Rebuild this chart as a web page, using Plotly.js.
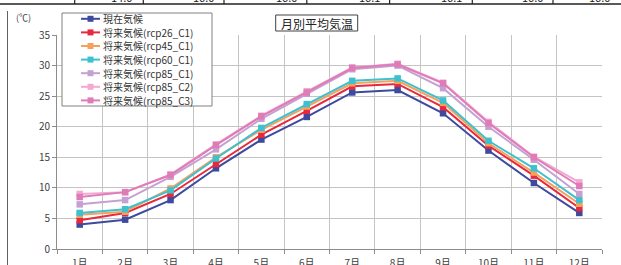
<!DOCTYPE html>
<html>
<head>
<meta charset="utf-8">
<script src="https://cdn.plot.ly/plotly-3.0.1.min.js"></script>
<style>html,body{margin:0;padding:0;background:#fff;}#chart{width:621px;height:265px;}</style>
</head>
<body>
<div id="chart"></div>
<script>
// ---- data ----
const months = ['1月','2月','3月','4月','5月','6月','7月','8月','9月','10月','11月','12月'];
const seriesNames = ['現在気候','将来気候(rcp26_C1)','将来気候(rcp45_C1)','将来気候(rcp60_C1)','将来気候(rcp85_C1)','将来気候(rcp85_C2)','将来気候(rcp85_C3)'];
const genzai   = [4.0, 4.8, 8.0, 13.2, 17.9, 21.6, 25.6, 26.0, 22.2, 16.1, 10.8, 5.9];
const rcp26_C1 = [4.7, 5.9, 9.0, 13.9, 18.7, 22.6, 26.6, 27.0, 23.2, 16.9, 12.0, 6.7];
const rcp45_C1 = [5.6, 6.1, 9.9, 15.0, 19.5, 23.3, 27.1, 27.5, 23.9, 17.3, 12.5, 7.4];
const rcp60_C1 = [5.9, 6.5, 9.6, 14.8, 19.8, 23.7, 27.5, 27.9, 24.3, 17.7, 13.2, 8.0];
const rcp85_C1 = [7.3, 8.0, 11.8, 16.3, 21.3, 25.4, 29.4, 30.0, 26.3, 20.0, 14.6, 9.0];
const rcp85_C2 = [9.0, 9.3, 12.2, 17.1, 21.8, 25.8, 29.7, 30.3, 27.2, 20.8, 15.1, 10.9];
const rcp85_C3 = [8.5, 9.3, 12.1, 17.0, 21.7, 25.6, 29.6, 30.2, 27.1, 20.6, 15.0, 10.3];
const yTicks = [0, 5, 10, 15, 20, 25, 30, 35];
const chartTitle = '月別平均気温';
const unitLabel = '(℃)';
const topRowTexts = ['14.0', '16.0', '16.0', '16.1', '16.1', '16.0', '16.0'];

// ---- style ----
const colors = ['#3d4a9e', '#e8283c', '#f6a05c', '#3ec1cf', '#c5a1d1', '#f3a9d1', '#df7cb8'];
const allSeries = [genzai, rcp26_C1, rcp45_C1, rcp60_C1, rcp85_C1, rcp85_C2, rcp85_C3];
const FONT = 'Noto Sans CJK JP, Noto Sans, sans-serif';
const W = 621, H = 265, L = 57, R = 19, T = 35, B = 16;
const PW = W - L - R, PH = H - T - B;
const px = X => (X - L) / PW;
const py = Y => (H - B - Y) / PH;

const traces = allSeries.map((vals, i) => ({
  type: 'scatter', mode: 'lines+markers',
  x: months, y: vals, name: seriesNames[i],
  line: {color: colors[i], width: 2},
  marker: {symbol: 'square', size: 6.5, color: colors[i]},
  showlegend: false, hoverinfo: 'skip'
}));

const shapes = [];
const annotations = [];

// custom legend
shapes.push({type: 'rect', xref: 'paper', yref: 'paper', x0: px(62), x1: px(212), y0: py(13), y1: py(106),
  line: {color: '#808080', width: 1}, fillcolor: '#ffffff', layer: 'above'});
seriesNames.forEach((nm, i) => {
  const Y = 18.8 + 13.6 * i;
  shapes.push({type: 'line', xref: 'paper', yref: 'paper', x0: px(81), x1: px(100), y0: py(Y), y1: py(Y),
    line: {color: colors[i], width: 2}, layer: 'above'});
  shapes.push({type: 'rect', xref: 'paper', yref: 'paper', x0: px(87.5), x1: px(93.5), y0: py(Y - 3), y1: py(Y + 3),
    line: {width: 0}, fillcolor: colors[i], layer: 'above'});
  annotations.push({xref: 'paper', yref: 'paper', x: px(101), y: py(Y), xanchor: 'left', yanchor: 'middle',
    text: nm, showarrow: false, font: {family: FONT, size: 10, color: '#333333'}});
});

// title box
shapes.push({type: 'rect', xref: 'paper', yref: 'paper', x0: px(275.7), x1: px(357.7), y0: py(15), y1: py(31),
  line: {color: '#404040', width: 1}, fillcolor: '#ffffff', layer: 'above'});
annotations.push({xref: 'paper', yref: 'paper', x: px(316.7), y: py(23.3), xanchor: 'center', yanchor: 'middle',
  text: chartTitle, showarrow: false, font: {family: FONT, size: 12, color: '#222222'}});

// unit label
annotations.push({xref: 'paper', yref: 'paper', x: px(23), y: py(17), xanchor: 'center', yanchor: 'middle',
  text: unitLabel, showarrow: false, font: {family: FONT, size: 9, color: '#404040'}});

// left frame line
shapes.push({type: 'line', xref: 'paper', yref: 'paper', x0: px(7.5), x1: px(7.5), y0: py(11), y1: py(266),
  line: {color: '#606060', width: 1}});

// top table strip (cut off)
shapes.push({type: 'line', xref: 'paper', yref: 'paper', x0: px(0), x1: px(621), y0: py(4), y1: py(4),
  line: {color: '#222222', width: 1.5}});
const sepX = [74.7, 143.3, 224, 306.8, 389.6, 472.3, 553];
sepX.forEach(X => shapes.push({type: 'line', xref: 'paper', yref: 'paper', x0: px(X), x1: px(X), y0: py(-2), y1: py(4),
  line: {color: '#222222', width: 1.2}}));
const textEnds = [134, 216, 299, 382, 464, 545, 612];
topRowTexts.forEach((t, i) => annotations.push({xref: 'paper', yref: 'paper', x: px(textEnds[i]), y: py(6.5),
  xanchor: 'right', yanchor: 'bottom', text: t, showarrow: false, font: {family: FONT, size: 11, color: '#222222'}}));

const layout = {
  width: W, height: H,
  margin: {l: L, r: R, t: T, b: B, pad: 0},
  paper_bgcolor: '#ffffff', plot_bgcolor: '#ffffff',
  showlegend: false,
  font: {family: FONT, size: 10, color: '#404040'},
  xaxis: {
    type: 'category', categoryarray: months, tickson: 'boundaries',
    range: [-0.5, 11.5],
    showgrid: true, gridcolor: '#c4c4c4', gridwidth: 1,
    showline: true, linecolor: '#8c8c8c', linewidth: 1,
    ticks: 'outside', ticklen: 4, tickcolor: '#8c8c8c',
    ticklabelstandoff: 5,
    tickfont: {family: FONT, size: 10, color: '#404040'},
    fixedrange: true, zeroline: false
  },
  yaxis: {
    range: [0, 35], tickvals: yTicks, ticktext: yTicks.map(String),
    showgrid: true, gridcolor: '#c4c4c4', gridwidth: 1,
    showline: true, linecolor: '#8c8c8c', linewidth: 1,
    ticks: 'outside', ticklen: 4, tickcolor: '#8c8c8c',
    tickfont: {family: FONT, size: 10, color: '#404040'},
    zeroline: false, fixedrange: true
  },
  shapes: shapes,
  annotations: annotations
};

Plotly.newPlot('chart', traces, layout, {displayModeBar: false, staticPlot: true});
</script>
</body>
</html>
